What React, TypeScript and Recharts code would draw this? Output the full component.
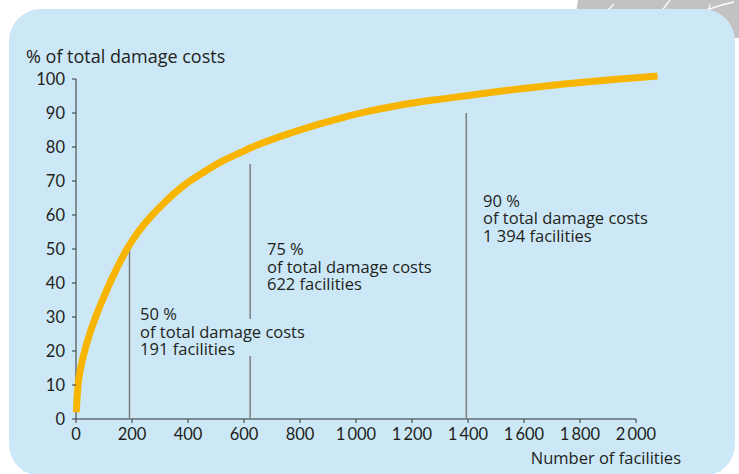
import React from "react";
import {
  LineChart,
  Line,
  XAxis,
  YAxis,
  ReferenceLine,
  ReferenceDot,
} from "recharts";

// facilities ranked by damage cost vs cumulative share of total damage costs (%)
const facilities = [
  1, 4, 8, 14, 20, 32, 50, 74, 100, 121, 150, 182, 220, 268, 320, 395, 450, 514, 575, 633,
  700, 752, 800, 871, 950, 1038, 1150, 1276, 1395, 1514, 1630, 1752, 1870, 1990, 2077,
];
const shareOfCosts = [
  2, 6.5, 10.5, 13.8, 16.3, 20.3, 25.3, 30.8, 36, 40, 45, 50, 54.8, 59.6, 64, 69.3, 72.3, 75.5, 77.9, 80.1,
  82.2, 83.7, 85, 86.8, 88.6, 90.4, 92.2, 93.8, 95.1, 96.4, 97.5, 98.6, 99.5, 100.3, 100.9,
];

const xTicks = [0, 200, 400, 600, 800, 1000, 1200, 1400, 1600, 1800, 2000];
const yTicks = [0, 10, 20, 30, 40, 50, 60, 70, 80, 90, 100];

// threshold markers: facility count, drop line pieces (in %), caption
const thresholds = [
  { n: 191, pieces: [[0, 50]], pct: "50 %", count: "191 facilities", labelAt: [229, 29.1] },
  { n: 622, pieces: [[0, 18.5], [29.4, 75]], pct: "75 %", count: "622 facilities", labelAt: [682, 48.2] },
  { n: 1394, pieces: [[0, 90]], pct: "90 %", count: "1 394 facilities", labelAt: [1454, 62.4] },
];

const data = facilities.map((n, i) => ({ n, pct: shareOfCosts[i] }));

const TICK_FONT = "Lato, sans-serif";
const TEXT_FONT = "'Open Sans', sans-serif";
const INK = "#231f20";
const AXIS = "#333333";

const fmtThousands = (v: number) =>
  v >= 1000 ? `${Math.floor(v / 1000)}\u2009${String(v % 1000).padStart(3, "0")}` : String(v);

function Caption({ cx, cy, pct, count }: any) {
  const lines = [pct, "of total damage costs", count];
  return (
    <g>
      {lines.map((s, i) => (
        <text key={i} x={cx} y={cy + i * 17.5} fill={INK} fontSize={16.5} fontFamily={TEXT_FONT}>
          {s}
        </text>
      ))}
    </g>
  );
}

export default function App() {
  return (
    <div
      style={{
        position: "absolute",
        left: 0,
        top: 0,
        width: 739,
        height: 474,
        overflow: "hidden",
        background: "#ffffff",
        fontFamily: TEXT_FONT,
      }}
    >
      {/* grey decoration peeking out top-right */}
      <svg width={739} height={60} style={{ position: "absolute", left: 0, top: 0 }}>
        <polygon points="578,0 739,0 739,38 572,38" fill="#c2c2c2" />
        <path d="M592,38 C596,26 602,14 614,4" stroke="#ffffff" strokeWidth={1.3} fill="none" />
        <path d="M646,38 C652,24 662,10 670,0" stroke="#ffffff" strokeWidth={1.3} fill="none" />
        <path d="M688,20 C700,12 714,6 734,2" stroke="#ffffff" strokeWidth={1.3} fill="none" />
        <path d="M704,38 C706,26 708,14 710,4" stroke="#ffffff" strokeWidth={1.1} fill="none" />
      </svg>

      {/* light blue panel */}
      <div
        style={{
          position: "absolute",
          left: 9,
          top: 9,
          width: 726,
          height: 467,
          borderRadius: 32,
          background: "#cce8f6",
        }}
      />

      <div
        style={{
          position: "absolute",
          left: 26,
          top: 44,
          fontSize: 18,
          color: INK,
          whiteSpace: "nowrap",
        }}
      >
        % of total damage costs
      </div>
      <div
        style={{
          position: "absolute",
          right: 739 - 681,
          top: 446,
          fontSize: 16.5,
          color: INK,
          whiteSpace: "nowrap",
        }}
      >
        Number of facilities
      </div>

      <div style={{ position: "absolute", left: 0, top: 0 }}>
        <LineChart
          width={739}
          height={474}
          data={data}
          margin={{ top: 70, right: 80.6, bottom: 25, left: 16 }}
        >
          <XAxis
            type="number"
            dataKey="n"
            domain={[0, 2080]}
            ticks={xTicks}
            tickFormatter={fmtThousands}
            interval={0}
            height={30}
            axisLine={false}
            tickLine={{ stroke: AXIS }}
            tickSize={4}
            tickMargin={5}
            tick={{ fill: INK, fontSize: 16.5, fontFamily: TICK_FONT }}
          />
          <YAxis
            type="number"
            domain={[0, 102.65]}
            ticks={yTicks}
            interval={0}
            width={60}
            axisLine={false}
            tickLine={{ stroke: AXIS }}
            tickSize={4}
            tickMargin={7}
            tick={{ fill: INK, fontSize: 16.5, fontFamily: TICK_FONT }}
          />
          <ReferenceLine
            segment={[{ x: 0, y: 0 }, { x: 2000, y: 0 }]}
            stroke={AXIS}
            strokeWidth={1}
          />
          <ReferenceLine
            segment={[{ x: 0, y: 0 }, { x: 0, y: 100 }]}
            stroke={AXIS}
            strokeWidth={1}
          />
          {thresholds.flatMap((t) =>
            t.pieces.map(([a, b], i) => (
              <ReferenceLine
                key={`${t.n}-${i}`}
                segment={[{ x: t.n, y: a }, { x: t.n, y: b }]}
                stroke="#7d7d7d"
                strokeWidth={1.5}
              />
            ))
          )}
          <Line
            type="monotone"
            dataKey="pct"
            stroke="#f7b500"
            strokeWidth={7}
            dot={false}
            isAnimationActive={false}
          />
          {thresholds.map((t) => (
            <ReferenceDot
              key={`cap-${t.n}`}
              x={t.labelAt[0]}
              y={t.labelAt[1]}
              r={0}
              shape={(p: any) => <Caption cx={p.cx} cy={p.cy} pct={t.pct} count={t.count} />}
            />
          ))}
        </LineChart>
      </div>
    </div>
  );
}
